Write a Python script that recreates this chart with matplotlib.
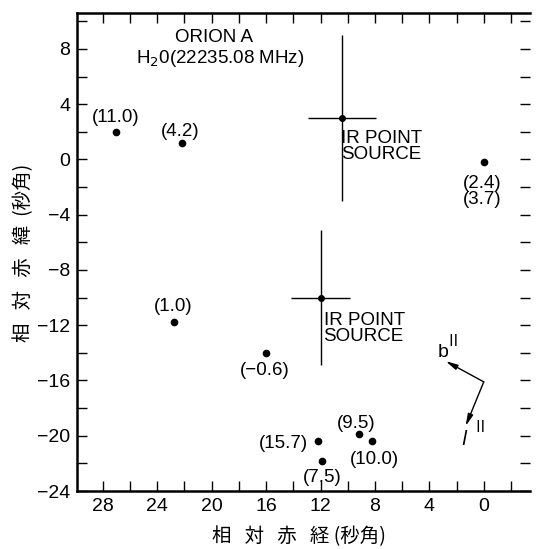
import matplotlib
matplotlib.use("Agg")
import matplotlib.pyplot as plt
from matplotlib.ticker import MultipleLocator

plt.rcParams['font.family'] = ['Liberation Sans Narrow', 'Liberation Sans', 'DejaVu Sans']

# Water maser spots (relative RA, relative Dec, velocity labels)
maser_x = [27.0, 22.2, 0.0, 22.8, 16.0, 12.2, 11.9, 9.2, 8.2]
maser_y = [2.0, 1.2, -0.2, -11.8, -14.0, -20.4, -21.8, -19.9, -20.4]
maser_labels = ["(11.0)", "(4.2)", "(2.4)\n(3.7)", "(1.0)", "(−0.6)",
                "(15.7)", "(7.5)", "(9.5)", "(10.0)"]

# IR point sources with error bars
ir_x = [10.4, 12.0]
ir_y = [3.0, -10.0]
ir_xerr = [2.5, 2.2]
ir_yerr = [6.0, 4.9]
ir_label = "IR POINT\nSOURCE"

xticks = [28, 24, 20, 16, 12, 8, 4, 0]
yticks = [-24, -20, -16, -12, -8, -4, 0, 4, 8]

W, H = 536, 549
fig = plt.figure(figsize=(W / 100, H / 100), dpi=100)
ax = fig.add_axes([77 / W, 1 - 491 / H, (530 - 77) / W, (491 - 13) / H])

ax.plot(maser_x, maser_y, 'o', color='black', markersize=4.5, zorder=3)
ax.errorbar(ir_x, ir_y, xerr=ir_xerr, yerr=ir_yerr, fmt='o', color='black',
            markersize=4, elinewidth=1.0, capsize=0, zorder=3)

# label offsets in pixels (dx, dy up), horizontal alignment
offs = [(-1, 14, 'center'), (-2, 11, 'center'), (-2, -29, 'center'),
        (0, 16, 'center'), (-1, -18, 'center'), (-10, -2, 'right'),
        (0, -17, 'center'), (-2, 11, 'center'), (2, -18, 'center')]
px2pt = 0.72
for x, y, t, (dx, dy, ha) in zip(maser_x, maser_y, maser_labels, offs):
    ax.annotate(t, (x, y), xytext=(dx * px2pt, dy * px2pt), textcoords='offset points',
                ha=ha, va='center', fontsize=13.5, linespacing=0.95,
                multialignment='center')

ax.annotate(ir_label, (ir_x[0], ir_y[0]), xytext=(-1 * px2pt, -12 * px2pt),
            textcoords='offset points', ha='left', va='top', fontsize=13.5,
            linespacing=0.95, multialignment='left')
ax.annotate(ir_label, (ir_x[1], ir_y[1]), xytext=(3 * px2pt, -14 * px2pt),
            textcoords='offset points', ha='left', va='top', fontsize=13.5,
            linespacing=0.95, multialignment='left')

ax.text(19.8, 8.8, "ORION A", ha='center', va='center', fontsize=13.5)
ax.text(19.4, 7.3, "H$_2$0(22235.08 MHz)", ha='center', va='center', fontsize=13.5)

# galactic coordinate arrows
aprops = dict(arrowstyle='-|>,head_length=0.7,head_width=0.16', color='black',
              lw=1.0, shrinkA=0, shrinkB=0)
ax.annotate("", xy=(2.8, -14.6), xytext=(0.0, -16.1), arrowprops=aprops)
ax.annotate("", xy=(1.33, -19.3), xytext=(0.0, -16.1), arrowprops=aprops)
roman = ['Noto Sans CJK JP', 'DejaVu Sans']
ax.text(3.0, -14.0, "b", fontsize=14, ha='center', va='center')
ax.text(2.25, -13.15, "Ⅱ", fontsize=11, ha='center', va='center', family=roman)
ax.text(1.4, -20.3, "$l$", fontsize=14, ha='center', va='center')
ax.text(0.3, -19.4, "Ⅱ", fontsize=11, ha='center', va='center', family=roman)

ax.set_xlim(29.9, -3.4)
ax.set_ylim(-24, 10.6)
ax.set_xticks(xticks)
ax.set_xticklabels([str(v) for v in xticks])
ax.set_yticks(yticks)
ax.set_yticklabels([("−" + str(-v)) if v < 0 else str(v) for v in yticks])
ax.xaxis.set_minor_locator(MultipleLocator(2))
ax.yaxis.set_minor_locator(MultipleLocator(2))
ax.tick_params(which='both', direction='in', top=True, right=True, labelsize=14,
               width=1.0, color='black', length=7)
ax.tick_params(axis='x', pad=5)
ax.tick_params(axis='y', pad=5)
for s in ['left', 'bottom', 'top']:
    ax.spines[s].set_linewidth(1.8)
ax.spines['right'].set_visible(False)

cjk = ['Noto Sans CJK JP', 'DejaVu Sans']
fig.text(299 / W, 1 - 537 / H, "相   対   赤   経 (秒角)", fontsize=14, family=cjk,
         ha='center', va='center')
fig.text(24 / W, 1 - 253 / H, "相   対   赤   緯  (秒角)", fontsize=14, family=cjk,
         ha='center', va='center', rotation=90)

fig.savefig("out.png", dpi=100)
